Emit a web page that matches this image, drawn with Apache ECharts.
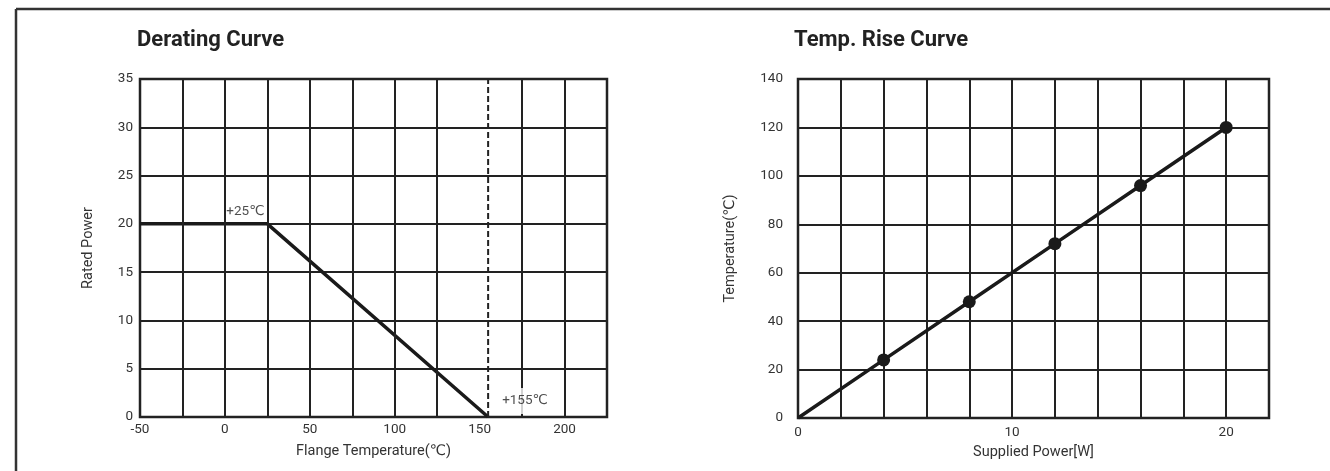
<!DOCTYPE html>
<html>
<head>
<meta charset="utf-8">
<script src="https://cdn.jsdelivr.net/npm/echarts@6/dist/echarts.min.js"></script>
<style>
  html, body { margin: 0; padding: 0; background: #fff; }
  #chart { width: 1330px; height: 471px; }
</style>
</head>
<body>
<div id="chart"></div>
<script>
// ---- Derating Curve data ----
const derTitle = 'Derating Curve';
const derTemp = [-50, 25, 155];          // Flange temperature (℃)
const derPower = [20, 20, 0];            // Rated power
const derLimitTemp = 155;                // dashed limit line
const derLimitRange = [0, 35];
const derGridX = [-25, 0, 25, 50, 75, 100, 125, 175, 200]; // vertical grid lines (no line at 150)
const derNotes = ['+25℃', '+155℃'];
const derNotePts = [[25, 20], [155, 0]];
const derXName = 'Flange Temperature(℃)';
const derYName = 'Rated Power';

// ---- Temp. Rise Curve data ----
const riseTitle = 'Temp. Rise Curve';
const risePower = [0, 4, 8, 12, 16, 20];        // Supplied power (W)
const riseTemp = [0, 24, 48, 72, 96, 120];      // Temperature (℃)
const riseXName = 'Supplied Power[W]';
const riseYName = 'Temperature(℃)';

const FONT = 'Roboto, "DejaVu Sans", sans-serif';
const INK = '#222';
const TXT = '#333';

const labelStyle = { color: TXT, fontSize: 13.5, fontFamily: FONT };
const nameStyle = { color: TXT, fontSize: 14.5, fontFamily: FONT };
const gridLine = { show: true, lineStyle: { color: INK, width: 2 } };
const titleStyle = { fontSize: 22, fontWeight: 'bold', color: INK, fontFamily: FONT };

const chart = echarts.init(document.getElementById('chart'), null, { renderer: 'canvas' });

const option = {
  animation: false,
  backgroundColor: '#fff',
  title: [
    { text: derTitle, left: 137, top: 29, padding: 0, textStyle: titleStyle },
    { text: riseTitle, left: 794, top: 29, padding: 0, textStyle: titleStyle }
  ],
  graphic: [
    { type: 'line', shape: { x1: 16, y1: 9, x2: 1330, y2: 9 }, style: { stroke: '#333', lineWidth: 2.5 } },
    { type: 'line', shape: { x1: 16, y1: 9, x2: 16, y2: 471 }, style: { stroke: '#333', lineWidth: 2.5 } }
  ],
  grid: [
    { left: 140, top: 79, width: 467, height: 338, show: true, borderColor: INK, borderWidth: 2.5, backgroundColor: '#fff' },
    { left: 798, top: 79, width: 471, height: 339, show: true, borderColor: INK, borderWidth: 2.5, backgroundColor: '#fff' }
  ],
  xAxis: [
    {
      gridIndex: 0, type: 'value', min: -50, max: 225, interval: 25,
      axisLine: { show: false }, axisTick: { show: false }, splitLine: { show: false },
      axisLabel: Object.assign({ margin: 6, formatter: v => (v % 50 === 0 ? String(v) : '') }, labelStyle),
      name: derXName, nameLocation: 'middle', nameGap: 27, nameTextStyle: nameStyle
    },
    {
      gridIndex: 1, type: 'value', min: 0, max: 22, interval: 2,
      axisLine: { show: false }, axisTick: { show: false }, splitLine: gridLine,
      axisLabel: Object.assign({ margin: 8, formatter: v => (v % 10 === 0 ? String(v) : '') }, labelStyle),
      name: riseXName, nameLocation: 'middle', nameGap: 26, nameTextStyle: nameStyle
    }
  ],
  yAxis: [
    {
      gridIndex: 0, type: 'value', min: 0, max: 35, interval: 5,
      axisLine: { show: false }, axisTick: { show: false }, splitLine: gridLine,
      axisLabel: Object.assign({ margin: 7 }, labelStyle),
      name: derYName, nameLocation: 'middle', nameGap: 44, nameTextStyle: nameStyle
    },
    {
      gridIndex: 1, type: 'value', min: 0, max: 140, interval: 20,
      axisLine: { show: false }, axisTick: { show: false }, splitLine: gridLine,
      axisLabel: Object.assign({ margin: 15 }, labelStyle),
      name: riseYName, nameLocation: 'middle', nameGap: 60, nameTextStyle: nameStyle
    }
  ],
  series: [
    {
      // vertical grid lines of the derating chart
      type: 'line', xAxisIndex: 0, yAxisIndex: 0, data: [], z: 1, silent: true,
      markLine: {
        silent: true, symbol: ['none', 'none'], animation: false,
        label: { show: false },
        lineStyle: { type: 'solid', color: INK, width: 2 },
        data: derGridX.map(v => ({ xAxis: v }))
      }
    },
    {
      type: 'line', xAxisIndex: 0, yAxisIndex: 0, z: 3,
      data: derTemp.map((t, i) => [t, derPower[i]]),
      symbol: 'none',
      lineStyle: { color: '#1a1a1a', width: 3.5 }
    },
    {
      type: 'line', xAxisIndex: 0, yAxisIndex: 0, z: 3,
      data: derLimitRange.map(p => [derLimitTemp, p]),
      symbol: 'none',
      lineStyle: { color: INK, width: 2, type: [6, 3] }
    },
    {
      type: 'scatter', xAxisIndex: 0, yAxisIndex: 0, z: 6, silent: true,
      symbolSize: 0,
      itemStyle: { color: 'transparent' },
      data: [
        {
          value: derNotePts[0],
          label: { show: true, formatter: derNotes[0], position: 'top', distance: 5, offset: [-22, 0],
                   color: '#222', fontSize: 13.5, fontFamily: FONT }
        },
        {
          value: derNotePts[1],
          label: { show: true, formatter: derNotes[1], position: 'right', distance: 5, offset: [1, -16],
                   color: '#222', fontSize: 13.5, fontFamily: FONT, backgroundColor: '#fff', padding: [6, 10, 6, 8] }
        }
      ]
    },
    {
      type: 'line', xAxisIndex: 1, yAxisIndex: 1, z: 3,
      data: risePower.map((p, i) => (p === 0 ? { value: [p, riseTemp[i]], symbolSize: 0 } : [p, riseTemp[i]])),
      symbol: 'circle', symbolSize: 13,
      itemStyle: { color: '#1a1a1a' },
      lineStyle: { color: '#1a1a1a', width: 3.5 }
    }
  ]
};

chart.setOption(option);
</script>
</body>
</html>
